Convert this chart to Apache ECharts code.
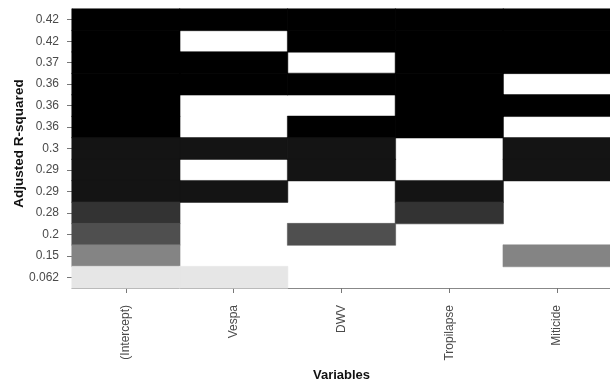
<!DOCTYPE html>
<html><head><meta charset="utf-8">
<script src="https://cdn.jsdelivr.net/npm/echarts@6/dist/echarts.min.js"></script>
<style>html,body{margin:0;padding:0;background:#fff}#c{width:610px;height:380px}</style>
</head><body><div id="c"></div>
<script>
const variables = ['(Intercept)', 'Vespa', 'DWV', 'Tropilapse', 'Miticide'];
// rows listed top to bottom
const adjR2Labels = ['0.42','0.42','0.37','0.36','0.36','0.36','0.3','0.29','0.29','0.28','0.2','0.15','0.062'];
const included = [
  [1,1,1,1,1],
  [1,0,1,1,1],
  [1,1,0,1,1],
  [1,1,1,1,0],
  [1,0,0,1,1],
  [1,0,1,1,0],
  [1,1,1,0,1],
  [1,0,1,0,1],
  [1,1,0,1,0],
  [1,0,0,1,0],
  [1,0,1,0,0],
  [1,0,0,0,1],
  [1,1,0,0,0]
];

function shade(v) {
  if (v >= 0.35) return '#000000';
  if (v >= 0.285) return '#141414';
  if (v >= 0.25) return '#333333';
  if (v >= 0.18) return '#4f4f4f';
  if (v >= 0.1) return '#848484';
  return '#e6e6e6';
}

const nRows = adjR2Labels.length;
const yCats = adjR2Labels.map((_, i) => String(i)); // index 0 = bottom row
const data = [];
for (let r = 0; r < nRows; r++) {
  const yIdx = nRows - 1 - r;
  const v = parseFloat(adjR2Labels[r]);
  const col = shade(v);
  for (let c = 0; c < variables.length; c++) {
    if (included[r][c]) data.push({value: [c, yIdx, v], itemStyle: {color: col, borderColor: col, borderWidth: 0.5}});
  }
}

const font = 'Liberation Sans';
const chart = echarts.init(document.getElementById('c'), null, {renderer: 'canvas'});
chart.setOption({
  animation: false,
  backgroundColor: '#fff',
  grid: {left: 72, right: -1, top: 9, bottom: 92, containLabel: false, outerBoundsMode: 'none'},
  xAxis: {
    type: 'category', data: variables,
    name: 'Variables', nameLocation: 'middle', nameGap: 78,
    nameTextStyle: {fontFamily: font, fontWeight: 'bold', fontSize: 13, color: '#111'},
    axisLine: {show: true, lineStyle: {color: '#888', width: 1}},
    axisTick: {show: true, alignWithLabel: true, length: 5, lineStyle: {color: '#777'}},
    axisLabel: {rotate: 90, margin: 17, fontFamily: font, fontSize: 12, color: '#4a4a4a'},
    splitLine: {show: false}, splitArea: {show: false}
  },
  yAxis: {
    type: 'category', data: yCats,
    name: 'Adjusted R-squared', nameLocation: 'middle', nameGap: 46, nameRotate: 90,
    nameMoveOverlap: false,
    nameTextStyle: {fontFamily: font, fontWeight: 'bold', fontSize: 13.5, color: '#111', padding: [0, 0, 0, 10]},
    axisLine: {show: true, lineStyle: {color: '#888', width: 1}},
    axisTick: {show: true, alignWithLabel: true, length: 5, lineStyle: {color: '#777'}},
    axisLabel: {margin: 13, fontFamily: font, fontSize: 12, color: '#4a4a4a',
      formatter: v => adjR2Labels[nRows - 1 - parseInt(v)]},
    splitLine: {show: false}, splitArea: {show: false}
  },
  series: [{
    type: 'heatmap', data: data,
    emphasis: {disabled: true}
  }]
});
</script></body></html>
